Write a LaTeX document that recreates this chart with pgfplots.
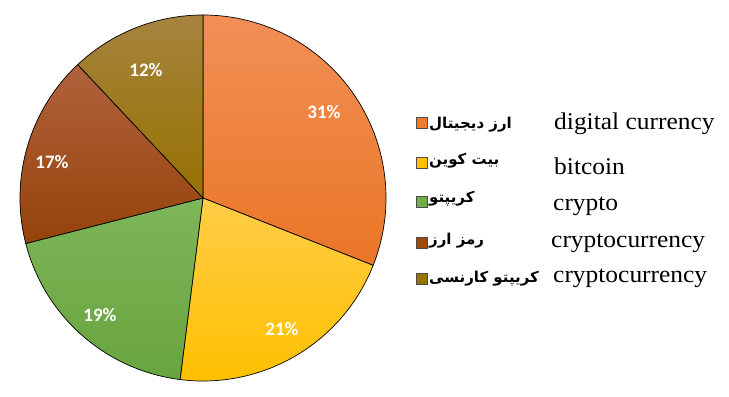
\documentclass[border=0pt]{standalone}
\usepackage{fontspec}
\setmainfont{Liberation Serif}
\newfontfamily\carlito{Carlito}
\newfontfamily\arabicfont[Script=Arabic]{DejaVu Sans}
\TeXXeTstate=1
\usepackage{pgfplots}
\pgfplotsset{compat=1.18}
\definecolor{oT}{RGB}{242,143,86}\definecolor{oB}{RGB}{234,118,38}
\definecolor{yT}{RGB}{255,205,72}\definecolor{yB}{RGB}{255,192,0}
\definecolor{gT}{RGB}{126,182,90}\definecolor{gB}{RGB}{104,164,62}
\definecolor{bT}{RGB}{176,98,60}\definecolor{bB}{RGB}{150,66,10}
\definecolor{vT}{RGB}{166,132,62}\definecolor{vB}{RGB}{150,112,0}
\definecolor{oM}{RGB}{237,125,49}\definecolor{yM}{RGB}{255,192,0}
\definecolor{gM}{RGB}{112,173,71}\definecolor{bM}{RGB}{158,72,14}
\definecolor{vM}{RGB}{153,115,0}
% shares of the pie, in percent
\def\pA{31}\def\pB{21}\def\pC{19}\def\pD{17}\def\pE{12}
\newcommand\en[1]{\scalebox{1.06}[1]{#1}}
\begin{document}
\begin{tikzpicture}[x=1bp,y=1bp]
\useasboundingbox (0,0) rectangle (729,396);
\pgfmathsetmacro\aA{90}
\pgfmathsetmacro\aB{\aA-3.6*\pA}
\pgfmathsetmacro\aC{\aB-3.6*\pB}
\pgfmathsetmacro\aD{\aC-3.6*\pC}
\pgfmathsetmacro\aE{\aD-3.6*\pD}
\pgfmathsetmacro\aF{\aE-3.6*\pE}
\begin{axis}[at={(203bp,198bp)}, anchor=origin, x=183bp, y=183bp,
  hide axis, xmin=-1, xmax=1, ymin=-1, ymax=1, clip=false]
\addplot[draw=black, line width=0.7bp, top color=oT, bottom color=oB, domain=\aB:\aA, samples=90, variable=\t] ({cos(\t)},{sin(\t)}) -- (axis cs:0,0) -- cycle;
\addplot[draw=black, line width=0.7bp, top color=yT, bottom color=yB, domain=\aC:\aB, samples=90, variable=\t] ({cos(\t)},{sin(\t)}) -- (axis cs:0,0) -- cycle;
\addplot[draw=black, line width=0.7bp, top color=gT, bottom color=gB, domain=\aD:\aC, samples=90, variable=\t] ({cos(\t)},{sin(\t)}) -- (axis cs:0,0) -- cycle;
\addplot[draw=black, line width=0.7bp, top color=bT, bottom color=bB, domain=\aE:\aD, samples=90, variable=\t] ({cos(\t)},{sin(\t)}) -- (axis cs:0,0) -- cycle;
\addplot[draw=black, line width=0.7bp, top color=vT, bottom color=vB, domain=\aF:\aE, samples=90, variable=\t] ({cos(\t)},{sin(\t)}) -- (axis cs:0,0) -- cycle;
\end{axis}
% percentage labels
\begin{scope}[every node/.style={text=white, font=\carlito\bfseries\fontsize{19bp}{19bp}\selectfont, inner sep=0pt}]
\node at (324,284) {\pA\%};
\node at (282,67) {\pB\%};
\node at (100,81) {\pC\%};
\node at (52,234) {\pD\%};
\node at (146,326) {\pE\%};
\end{scope}
% legend
\begin{scope}[draw=black!70, line width=0.6bp]
\filldraw[fill=oM] (416,268) rectangle (427,279);
\filldraw[fill=yM] (416,228) rectangle (427,239);
\filldraw[fill=gM] (416,189) rectangle (427,200);
\filldraw[fill=bM] (416,148) rectangle (427,159);
\filldraw[fill=vM] (416,112) rectangle (427,123);
\end{scope}
\begin{scope}[every node/.style={anchor=base west, inner sep=0pt, font=\arabicfont\bfseries\fontsize{15bp}{15bp}\selectfont}]
\node at (429,268) {\beginR ارز دیجیتال\endR};
\node at (429,232) {\beginR بیت کوین\endR};
\node at (429,194) {\beginR کریپتو\endR};
\node at (429,152) {\beginR رمز ارز\endR};
\node at (429,114) {\beginR کریپتو کارنسی\endR};
\end{scope}
\begin{scope}[every node/.style={anchor=base west, inner sep=0pt, font=\fontsize{24bp}{24bp}\selectfont}]
\node at (554,267) {\en{digital currency}};
\node at (554,222) {\en{bitcoin}};
\node at (553,186) {\en{crypto}};
\node at (551,149) {\en{cryptocurrency}};
\node at (553,114) {\en{cryptocurrency}};
\end{scope}
\end{tikzpicture}
\end{document}
